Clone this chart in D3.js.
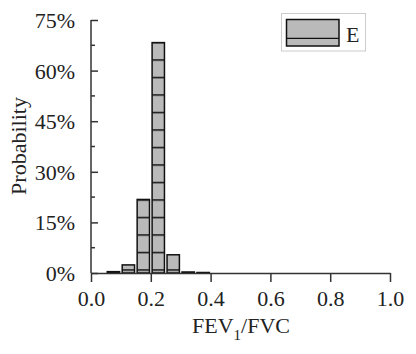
<!DOCTYPE html>
<html><head><meta charset="utf-8">
<script src="https://cdn.jsdelivr.net/npm/d3@7"></script>
<style>body{margin:0;background:#fff}svg{display:block}text{font-family:"Times New Roman",Times,"Liberation Serif",Tinos,serif;fill:#222}</style>
</head><body><svg id="c" width="416" height="354"></svg>
<script>
const binStarts = [0.05, 0.10, 0.15, 0.20, 0.25, 0.30, 0.35];
const binWidth = 0.05;
const probs = [0.4, 2.4, 21.8, 68.3, 5.4, 0.3, 0.15];
const xTicks = [0, 0.2, 0.4, 0.6, 0.8, 1.0];
const yTicks = [0, 15, 30, 45, 60, 75];
const yMinor = [7.5, 22.5, 37.5, 52.5, 67.5];
const seriesName = "E";

const svg = d3.select("#c");
const x = d3.scaleLinear().domain([0, 1]).range([91, 390]);
const y = d3.scaleLinear().domain([0, 75]).range([273, 20]);

const defs = svg.append("defs");
const pat = defs.append("pattern").attr("id", "hatch").attr("patternUnits", "userSpaceOnUse")
  .attr("width", 10).attr("height", 17.5).attr("y", 7.5 - 0.75);
pat.append("rect").attr("width", 10).attr("height", 17.5).attr("fill", "#bababa");
pat.append("rect").attr("y", 0).attr("width", 10).attr("height", 1.5).attr("fill", "#111");

// bars
svg.append("g").selectAll("rect").data(binStarts).join("rect")
  .attr("x", (d) => x(d) + 1.3)
  .attr("width", (d) => x(d + binWidth) - x(d) - 2.6)
  .attr("y", (d, i) => y(probs[i]))
  .attr("height", (d, i) => y(0) - y(probs[i]))
  .attr("fill", "url(#hatch)").attr("stroke", "#111").attr("stroke-width", 1.5);

// y axis
const ya = svg.append("g").attr("transform", "translate(91,0)")
  .call(d3.axisLeft(y).tickValues(yTicks).tickSize(-7).tickPadding(16).tickFormat((d) => d + "%"));
ya.attr("font-family", null);
ya.selectAll("text").style("font-size", "22px").attr("dy", "0.34em");
svg.append("g").attr("transform", "translate(91,0)").selectAll("line").data(yMinor).join("line")
  .attr("x1", 0).attr("x2", 4).attr("y1", (d) => y(d)).attr("y2", (d) => y(d))
  .attr("stroke", "#333").attr("stroke-width", 1.5);

// x axis
const xa = svg.append("g").attr("transform", "translate(0,273)")
  .call(d3.axisBottom(x).tickValues(xTicks).tickSize(9).tickPadding(8).tickSizeOuter(0).tickFormat(d3.format(".1f")));
xa.attr("font-family", null);
xa.selectAll("text").style("font-size", "22px");

svg.selectAll(".domain").attr("stroke", "#333").attr("stroke-width", 1.5);
ya.select(".domain").attr("d", "M-0,20H0V273");
svg.selectAll(".tick line").attr("stroke", "#333").attr("stroke-width", 1.5);

// axis titles
const xt = svg.append("text").attr("x", 241).attr("y", 333).attr("text-anchor", "middle").style("font-size", "22px");
xt.append("tspan").text("FEV");
xt.append("tspan").attr("dy", 7).style("font-size", "15px").text("1");
xt.append("tspan").attr("dy", -7).text("/FVC");

svg.append("text").attr("transform", "translate(26,146) rotate(-90)").attr("text-anchor", "middle")
  .style("font-size", "22px").text("Probability");

// legend
const lg = svg.append("g");
lg.append("rect").attr("x", 281.5).attr("y", 13.5).attr("width", 84).attr("height", 37.5)
  .attr("fill", "#fff").attr("stroke", "#ccc").attr("stroke-width", 1);
lg.append("rect").attr("x", 286.5).attr("y", 19.5).attr("width", 52.5).attr("height", 26.5)
  .attr("fill", "#bababa").attr("stroke", "#111").attr("stroke-width", 1.5);
lg.append("line").attr("x1", 286.5).attr("x2", 339).attr("y1", 38.3).attr("y2", 38.3)
  .attr("stroke", "#111").attr("stroke-width", 1.2);
lg.append("text").attr("x", 346).attr("y", 41.5).style("font-size", "22px").text(seriesName);
</script></body></html>
